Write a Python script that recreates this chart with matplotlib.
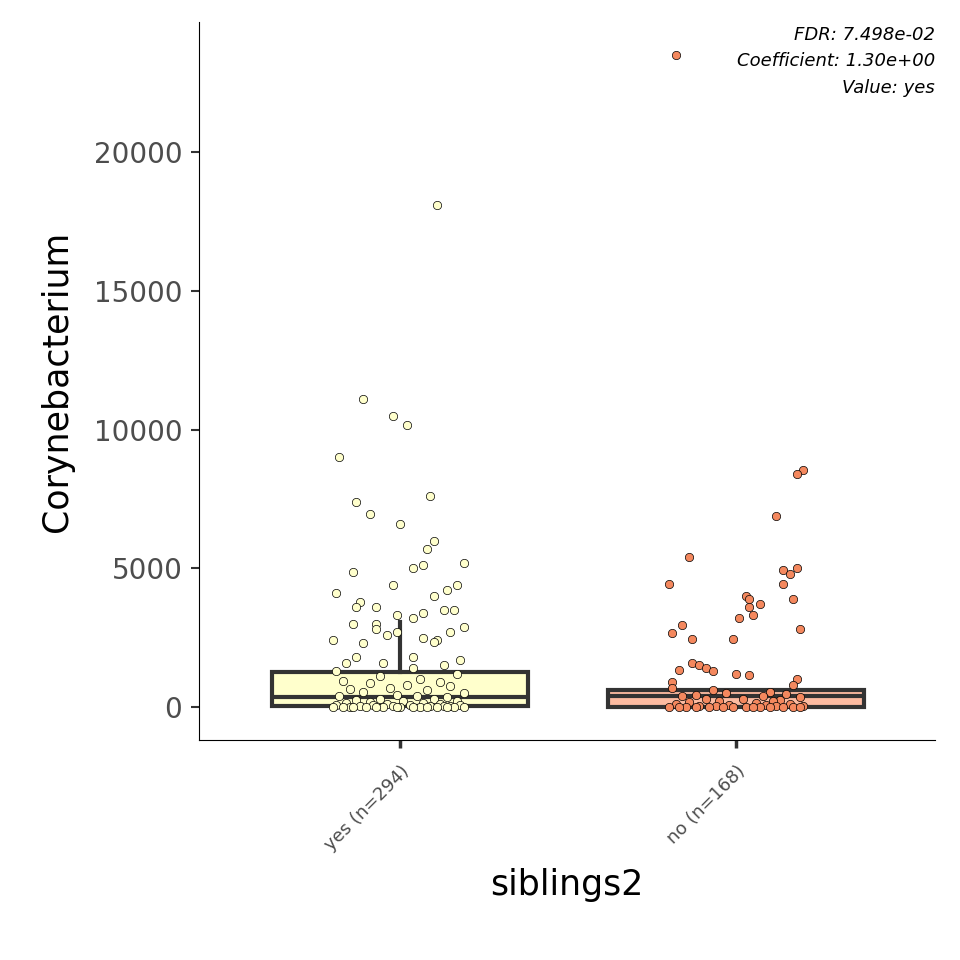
import numpy as np
import matplotlib
matplotlib.use("Agg")
import matplotlib.pyplot as plt

# ── DATA ─────────────────────────────────────────────────────────────────────
groups = ["yes (n=294)", "no (n=168)"]
box_fill = ["#FFFFCC", "#FCBBA1"]
pt_fill = ["#FFFFCC", "#F4885E"]

# box stats: (whislo, q1, med, q3, whishi)
box_stats = [(0, 20, 360, 1260, 3060), (0, 10, 400, 610, 610)]

yes_vals = [18100, 11100, 10500, 10150, 9000, 7400, 6950, 7600, 6600, 6000, 5700, 5200,
            5100, 5000, 4850, 4400, 4400, 4100, 4200, 4000, 3800, 3600, 3600, 3500, 3500,
            3400, 3300, 3200, 3000, 3000, 2900, 2800, 2700, 2700, 2600, 2500, 2400, 2400,
            2300, 2350, 1800, 1800, 1700, 1600, 1600, 1500, 1400, 1300, 1200, 1100, 1000,
            950, 900, 850, 800, 750, 700, 650, 600, 550, 500, 450, 400, 380, 350, 300,
            280, 250, 220, 200, 180, 150, 130, 120, 100, 90, 80, 70, 60, 50, 40, 30, 25,
            20, 15, 10, 8, 5, 3, 0, 0, 0, 0, 0, 0, 0, 0, 0, 0, 0]
yes_jit = [0.11, -0.11, -0.02, 0.02, -0.18, -0.13, -0.09, 0.09, 0.0, 0.10, 0.08, 0.19,
           0.07, 0.04, -0.14, -0.02, 0.17, -0.19, 0.14, 0.10, -0.12, -0.13, -0.07, 0.13, 0.16,
           0.07, -0.01, 0.04, -0.14, -0.07, 0.19, -0.07, 0.15, -0.01, -0.04, 0.07, 0.11, -0.20,
           -0.11, 0.10, -0.13, 0.04, 0.18, -0.16, -0.05, 0.13, 0.04, -0.19, 0.17, -0.06, 0.06,
           -0.17, 0.12, -0.09, 0.02, 0.15, -0.03, -0.15, 0.08, -0.11, 0.19, -0.01, 0.05, -0.18,
           0.14, -0.06, 0.10, -0.13, 0.01, 0.17, -0.09, 0.07, -0.16, 0.12, -0.04, 0.18, -0.19,
           0.03, -0.08, 0.15, -0.12, 0.09, -0.02, 0.13, -0.15, 0.06, -0.10, 0.16, -0.05, 0.0,
           -0.17, 0.11, -0.07, 0.19, -0.14, 0.04, -0.01, 0.08, -0.20, 0.14]

no_vals = [23500, 8550, 8400, 6900, 5400, 5000, 4950, 4800, 4450, 4450, 4000, 3900,
           3900, 3700, 3600, 3300, 3200, 2950, 2800, 2650, 2450, 2450, 1600, 1500, 1400,
           1350, 1300, 1200, 1150, 1000, 900, 800, 700, 600, 550, 500, 480, 450, 400, 380,
           350, 300, 280, 250, 220, 200, 180, 150, 120, 100, 80, 60, 50, 40, 30, 20, 15,
           10, 5, 0, 0, 0, 0, 0, 0, 0, 0, 0, 0, 0]
no_jit = [-0.18, 0.20, 0.18, 0.12, -0.14, 0.18, 0.14, 0.16, -0.20, 0.14, 0.03, 0.04,
          0.17, 0.07, 0.04, 0.05, 0.01, -0.16, 0.19, -0.19, -0.13, -0.01, -0.13, -0.11, -0.09,
          -0.17, -0.07, 0.0, 0.04, 0.18, -0.19, 0.17, -0.19, -0.07, 0.10, -0.03, 0.15, -0.12,
          0.08, -0.16, 0.19, 0.02, -0.09, 0.13, -0.05, 0.11, -0.14, 0.06, -0.18, 0.16, -0.02,
          0.09, -0.11, 0.20, -0.06, 0.12, -0.15, 0.03, 0.17, -0.08, 0.07, -0.17, 0.14, -0.04,
          0.10, -0.12, 0.19, -0.01, 0.05, -0.20]

annot = ["FDR: 7.498e-02", "Coefficient: 1.30e+00", "Value: yes"]

# ── PLOT ─────────────────────────────────────────────────────────────────────
fig = plt.figure(figsize=(9.6, 9.6), dpi=100)
ax = fig.add_axes([199 / 960, 1 - 740 / 960, 736 / 960, 718 / 960])

bxp = [dict(whislo=s[0], q1=s[1], med=s[2], q3=s[3], whishi=s[4], fliers=[]) for s in box_stats]
parts = ax.bxp(bxp, positions=[1, 2], widths=0.76, patch_artist=True, showfliers=False,
               showcaps=False,
               boxprops=dict(edgecolor="#333333", linewidth=3),
               whiskerprops=dict(color="#333333", linewidth=3),
               medianprops=dict(color="#333333", linewidth=3))
for patch, c in zip(parts["boxes"], box_fill):
    patch.set_facecolor(c)

for i, (vals, jit) in enumerate([(yes_vals, yes_jit), (no_vals, no_jit)]):
    ax.scatter(i + 1 + np.array(jit), vals, s=36, c=pt_fill[i], edgecolors="black",
               linewidths=0.5, zorder=3)

ax.set_xlim(0.402, 2.592)
ax.set_ylim(-1189, 24685)
ax.set_xticks([1, 2])
ax.set_xticklabels(groups, rotation=45, ha="right", rotation_mode="anchor",
                   fontsize=13, color="#4D4D4D")
ax.set_yticks([0, 5000, 10000, 15000, 20000])
ax.tick_params(axis="y", labelsize=20, labelcolor="#4D4D4D", length=6, width=1.5,
               color="#333333", pad=6)
ax.tick_params(axis="x", length=6, width=2.5, color="#333333", pad=10)
for s in ["top", "right"]:
    ax.spines[s].set_visible(False)
ax.set_ylabel("Corynebacterium", fontsize=25, labelpad=14)
ax.set_xlabel("siblings2", fontsize=25, labelpad=10)

for k, t in enumerate(annot):
    ax.text(1.0, 0.995 - k * 0.037, t, transform=ax.transAxes, ha="right", va="top",
            fontsize=13, style="italic")

fig.savefig("out.png", dpi=100)
